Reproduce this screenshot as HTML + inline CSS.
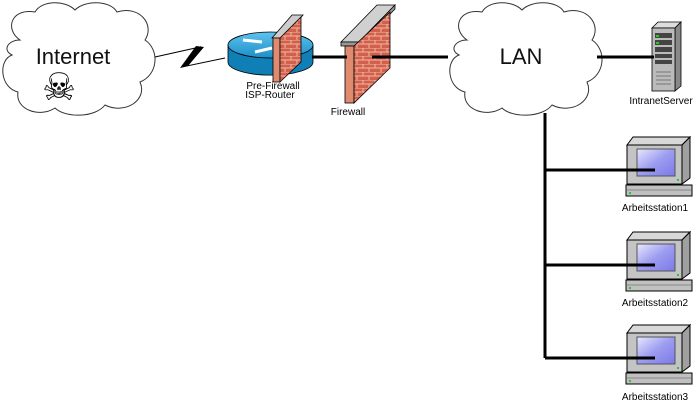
<!DOCTYPE html>
<html><head><meta charset="utf-8"><style>
html,body{margin:0;padding:0;background:#fff;}
svg{display:block;font-family:"Liberation Sans",Arial,sans-serif;}
</style></head><body>
<svg width="697" height="404" viewBox="0 0 697 404" xmlns="http://www.w3.org/2000/svg">
<defs>
<pattern id="brick" width="12" height="8" patternUnits="userSpaceOnUse">
<rect width="12" height="8" fill="#d2604a"/>
<path d="M0 0H12M0 4H12M3 0V4M9 4V8" stroke="#f0b8a8" stroke-width="1"/>
</pattern>
<linearGradient id="rt" x1="0" y1="0" x2="0" y2="1"><stop offset="0" stop-color="#5fc3ee"/><stop offset="1" stop-color="#1a8fc8"/></linearGradient>
<linearGradient id="scr" x1="0" y1="0" x2="1" y2="1"><stop offset="0" stop-color="#e8e8ff"/><stop offset="0.5" stop-color="#9c9cf0"/><stop offset="1" stop-color="#7a7ae8"/></linearGradient>
<g id="ws">
<polygon points="627,145 633,137 690,137 682,145" fill="#d8d8d8" stroke="#000" stroke-width="1"/>
<polygon points="682,145 690,137 690,178 682,184" fill="#a0a0a0" stroke="#000" stroke-width="1"/>
<rect x="627" y="145" width="55" height="39" fill="#c4c4c4" stroke="#000" stroke-width="1"/>
<rect x="637" y="149" width="38" height="27" fill="url(#scr)" stroke="#555" stroke-width="1"/>
<rect x="677" y="179" width="2" height="2" fill="#2c2"/>
<rect x="626" y="185" width="66" height="11" fill="#c0c0c0" stroke="#000" stroke-width="1"/>
<line x1="627" y1="190" x2="691" y2="190" stroke="#888"/>
<rect x="629" y="192" width="2" height="2" fill="#2c2"/>
</g>
</defs>

<!-- clouds -->
<path d="M20,40 C5,30 10,8 35,12 C42,0 65,0 75,10 C85,0 110,0 117,12 C140,5 155,25 145,40 C160,50 158,75 140,82 C148,100 125,115 105,105 C95,118 65,118 55,108 C40,118 15,110 18,92 C0,88 -2,60 12,55 C2,50 8,40 20,40 Z" fill="#fff" stroke="#333" stroke-width="1"/>
<text x="73" y="64" font-size="22" text-anchor="middle" fill="#111">Internet</text>
<text x="59" y="100" font-size="38" text-anchor="middle" fill="#000" font-family="DejaVu Sans, sans-serif">☠</text>

<path d="M467,40 C452,30 457,8 482,12 C489,0 512,0 522,10 C532,0 557,0 564,12 C587,5 602,25 592,40 C607,50 605,75 587,82 C595,100 572,115 552,105 C542,118 512,118 502,108 C487,118 462,110 465,92 C447,88 445,60 459,55 C449,50 455,40 467,40 Z" fill="#fff" stroke="#333" stroke-width="1"/>
<text x="521" y="64" font-size="22" text-anchor="middle" fill="#111">LAN</text>

<!-- lightning -->
<polyline points="155,57 200,47 182,67 225,58" fill="none" stroke="#000" stroke-width="1"/>
<polygon points="196,46 180,68 188,66 204,47" fill="#000"/>

<!-- router -->
<path d="M228,45 V62 A42,13 0 0 0 313,62 V45 Z" fill="#0f7fb6" stroke="#000" stroke-width="0.8"/>
<ellipse cx="270.5" cy="45" rx="42.5" ry="13" fill="url(#rt)" stroke="#000" stroke-width="0.8"/>
<path d="M243,40 L262,42 M255,52 L272,48" stroke="#fff" stroke-width="3"/>
<polygon points="272,38 292,15 303,15 283,38" fill="#ccc" stroke="#000" stroke-width="0.8"/>
<rect x="273" y="38" width="7" height="44" fill="#e08a70" stroke="#000" stroke-width="0.8"/>
<polygon points="280,38 301,17 301,62 280,82" fill="url(#brick)" stroke="#000" stroke-width="0.8"/>
<text x="273" y="89" font-size="10" text-anchor="middle">Pre-Firewall</text>
<text x="270" y="98" font-size="10" text-anchor="middle">ISP-Router</text>

<!-- firewall -->
<polygon points="341,42 377,5 395,5 359,42" fill="#d0d0d0" stroke="#000" stroke-width="0.8"/>
<polygon points="341,42 359,42 359,46 341,46" fill="#999" stroke="#000" stroke-width="0.8"/>
<polygon points="359,42 395,5 395,9 359,46" fill="#999" stroke="#000" stroke-width="0.8"/>
<rect x="345" y="46" width="9" height="57" fill="#e08a70" stroke="#000" stroke-width="0.8"/>
<polygon points="354,46 390,12 390,68 354,103" fill="url(#brick)" stroke="#000" stroke-width="0.8"/>
<text x="348" y="115" font-size="10" text-anchor="middle">Firewall</text>

<!-- server -->
<polygon points="652,28 658,22 681,22 675,28" fill="#ddd" stroke="#000" stroke-width="0.8"/>
<polygon points="675,28 681,22 681,86 675,91" fill="#888" stroke="#000" stroke-width="0.8"/>
<rect x="652" y="28" width="23" height="63" fill="#bbb" stroke="#000" stroke-width="0.8"/>
<g fill="#444"><rect x="655" y="33" width="17" height="5"/><rect x="655" y="40" width="17" height="5"/><rect x="655" y="47" width="17" height="5"/><rect x="655" y="54" width="17" height="4"/><rect x="655" y="60" width="17" height="4"/></g>
<rect x="656" y="35" width="3" height="2" fill="#2c2"/><rect x="656" y="42" width="3" height="2" fill="#2c2"/>
<g stroke="#777"><line x1="656" y1="72" x2="671" y2="72"/><line x1="656" y1="76" x2="671" y2="76"/><line x1="656" y1="80" x2="671" y2="80"/><line x1="656" y1="84" x2="671" y2="84"/></g>
<text x="661" y="104" font-size="10" text-anchor="middle">IntranetServer</text>

<!-- workstations -->
<use href="#ws"/>
<text x="655" y="211" font-size="10" text-anchor="middle">Arbeitsstation1</text>
<use href="#ws" transform="translate(0,95)"/>
<text x="655" y="306" font-size="10" text-anchor="middle">Arbeitsstation2</text>
<use href="#ws" transform="translate(0,188)"/>
<text x="655" y="400" font-size="10" text-anchor="middle">Arbeitsstation3</text>

<!-- lines (on top) -->
<g stroke="#000" stroke-width="3">
<line x1="312" y1="57" x2="347" y2="57"/>
<line x1="372" y1="57" x2="448" y2="57"/>
<line x1="597" y1="57" x2="654" y2="57"/>
<line x1="545" y1="113" x2="545" y2="358"/>
<line x1="545" y1="170" x2="655" y2="170"/>
<line x1="545" y1="265" x2="655" y2="265"/>
<line x1="545" y1="358" x2="655" y2="358"/>
</g>
</svg>
</body></html>
